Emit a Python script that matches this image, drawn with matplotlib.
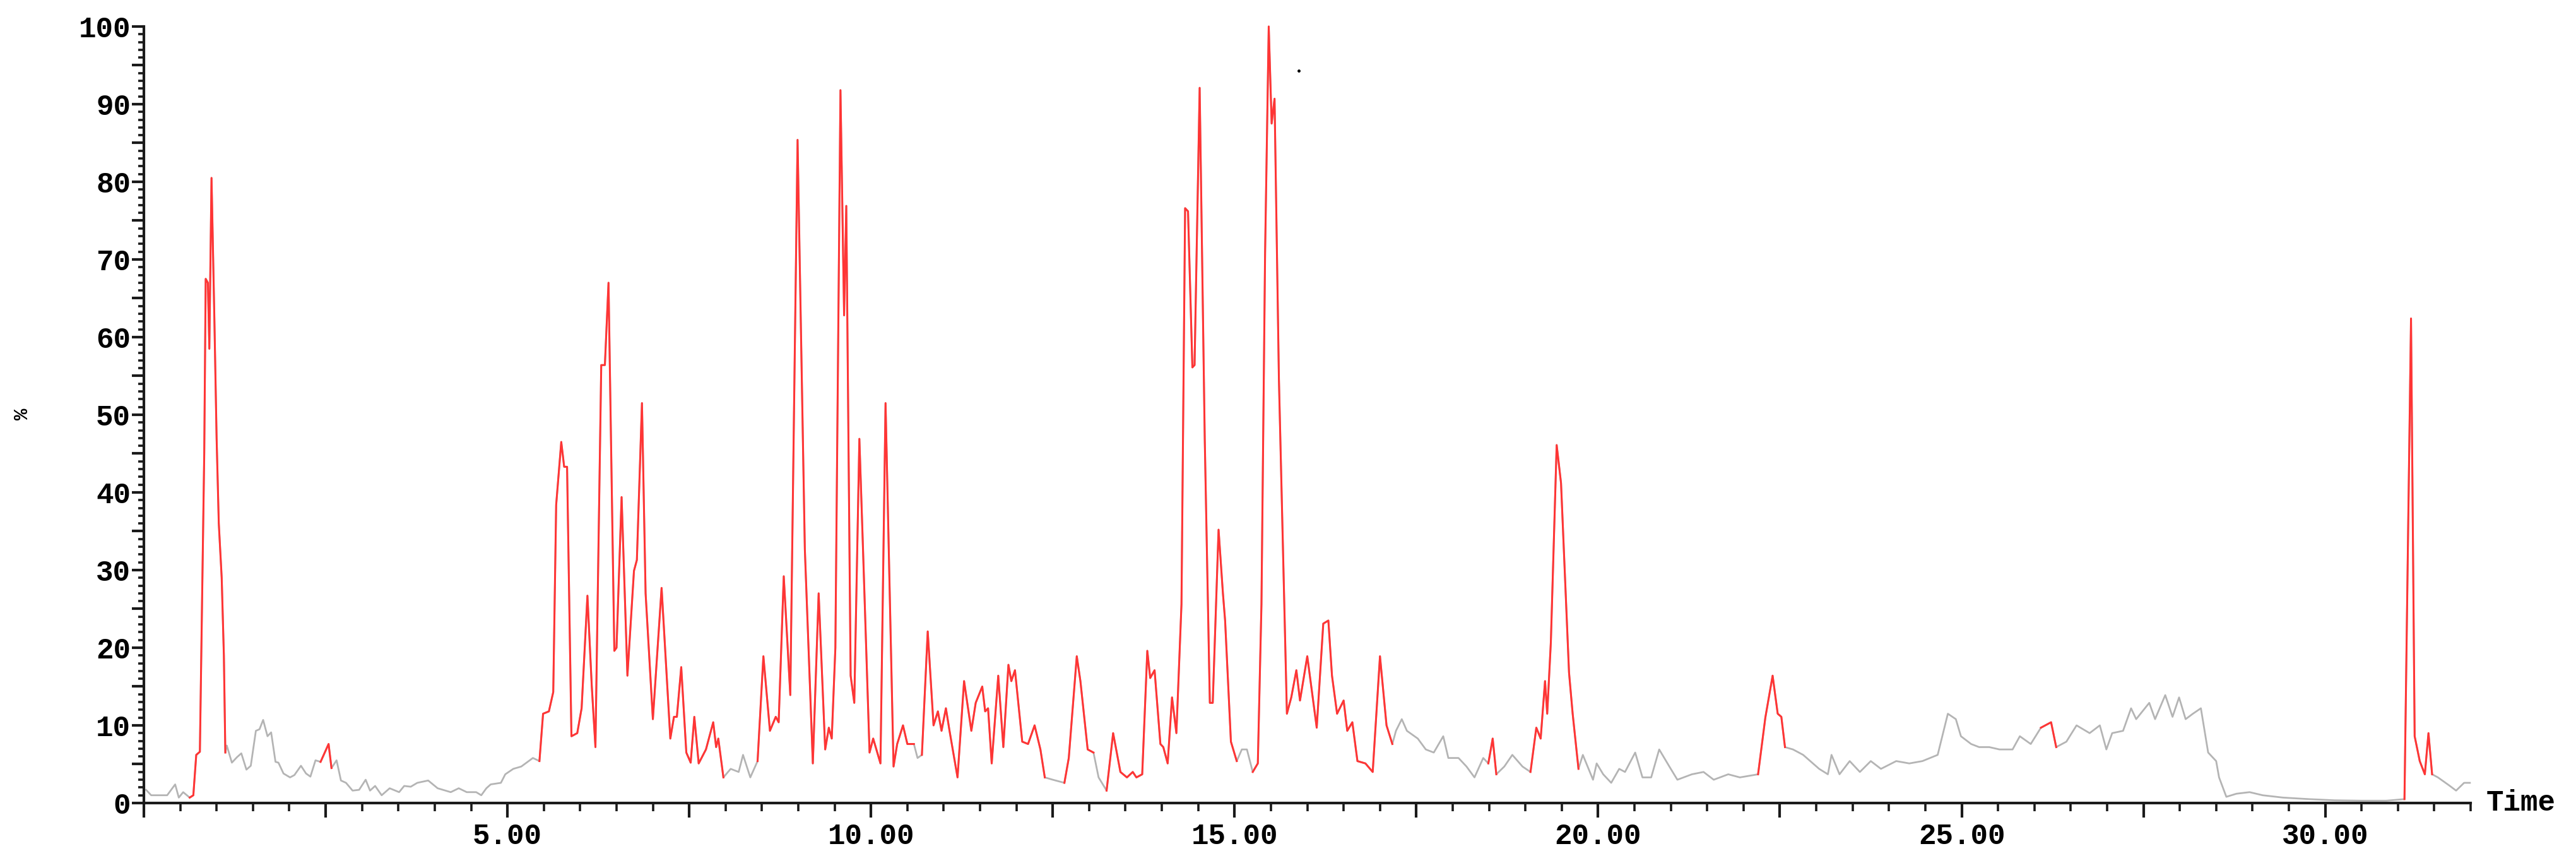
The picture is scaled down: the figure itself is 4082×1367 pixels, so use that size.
import numpy as np
import matplotlib
matplotlib.use('Agg')
from matplotlib import pyplot as plt
from matplotlib.ticker import MultipleLocator, FuncFormatter

# chromatogram trace (retention time in min, intensity in %)
rt_min = [
    0.03, 0.10, 0.32, 0.43, 0.48, 0.54, 0.63, 0.68, 0.72, 0.77, 0.80, 0.83, 0.85, 0.88, 0.90,
    0.93, 0.97, 1.00, 1.03, 1.07, 1.10, 1.12, 1.14, 1.21, 1.28, 1.34, 1.41, 1.47, 1.54, 1.59,
    1.64, 1.70, 1.75, 1.81, 1.85, 1.92, 2.01, 2.07, 2.16, 2.23, 2.29, 2.36, 2.43, 2.54, 2.58,
    2.65, 2.71, 2.78, 2.87, 2.96, 3.05, 3.11, 3.18, 3.27, 3.38, 3.51, 3.58, 3.67, 3.76, 3.91,
    4.04, 4.22, 4.33, 4.44, 4.57, 4.64, 4.71, 4.77, 4.91, 4.97, 5.08, 5.19, 5.35, 5.44, 5.49,
    5.57, 5.63, 5.67, 5.74, 5.78, 5.82, 5.88, 5.96, 6.02, 6.10, 6.16, 6.21, 6.29, 6.34, 6.39,
    6.47, 6.50, 6.57, 6.65, 6.74, 6.78, 6.85, 6.90, 7.00, 7.12, 7.24, 7.29, 7.33, 7.39, 7.46,
    7.52, 7.57, 7.63, 7.73, 7.83, 7.87, 7.90, 7.97, 8.07, 8.18, 8.24, 8.34, 8.44, 8.52, 8.61,
    8.69, 8.73, 8.80, 8.89, 8.99, 9.09, 9.20, 9.28, 9.37, 9.42, 9.46, 9.51, 9.58, 9.63, 9.66,
    9.72, 9.77, 9.84, 9.89, 9.98, 10.03, 10.13, 10.20, 10.31, 10.36, 10.44, 10.50, 10.59, 10.64,
    10.70, 10.78, 10.86, 10.92, 10.97, 11.03, 11.08, 11.19, 11.28, 11.38, 11.44, 11.53, 11.57,
    11.61, 11.66, 11.75, 11.82, 11.89, 11.93, 11.98, 12.08, 12.16, 12.25, 12.33, 12.39, 12.50,
    12.66, 12.72, 12.83, 12.88, 12.98, 13.06, 13.13, 13.24, 13.33, 13.43, 13.52, 13.60, 13.65,
    13.73, 13.80, 13.84, 13.90, 13.98, 14.02, 14.08, 14.14, 14.20, 14.27, 14.32, 14.36, 14.42,
    14.45, 14.52, 14.59, 14.66, 14.70, 14.78, 14.84, 14.87, 14.95, 15.03, 15.10, 15.17, 15.25,
    15.32, 15.37, 15.42, 15.47, 15.51, 15.55, 15.61, 15.72, 15.78, 15.85, 15.90, 16.00, 16.13,
    16.22, 16.29, 16.34, 16.41, 16.50, 16.55, 16.62, 16.69, 16.80, 16.90, 17.00, 17.09, 17.17,
    17.22, 17.30, 17.37, 17.52, 17.63, 17.74, 17.87, 17.94, 18.08, 18.19, 18.30, 18.42, 18.49,
    18.55, 18.60, 18.71, 18.82, 18.96, 19.07, 19.15, 19.21, 19.27, 19.30, 19.35, 19.43, 19.49,
    19.60, 19.65, 19.73, 19.79, 19.93, 19.98, 20.07, 20.18, 20.29, 20.37, 20.51, 20.61, 20.73,
    20.84, 20.98, 21.09, 21.29, 21.45, 21.59, 21.79, 21.95, 22.20, 22.30, 22.40, 22.47, 22.52,
    22.57, 22.68, 22.82, 23.04, 23.16, 23.21, 23.32, 23.46, 23.60, 23.75, 23.89, 24.10, 24.28,
    24.46, 24.67, 24.81, 24.92, 24.99, 25.13, 25.24, 25.38, 25.52, 25.70, 25.80, 25.95, 26.09,
    26.23, 26.30, 26.44, 26.58, 26.76, 26.90, 26.99, 27.07, 27.22, 27.33, 27.40, 27.58, 27.66,
    27.80, 27.90, 27.99, 28.08, 28.18, 28.29, 28.39, 28.50, 28.54, 28.64, 28.78, 28.96, 29.14,
    29.42, 29.78, 30.13, 30.49, 30.84, 31.09, 31.18, 31.23, 31.30, 31.37, 31.42, 31.47, 31.55,
    31.70, 31.80, 31.91, 31.99,
]
tic_pct = [
    1.7, 1.0, 1.0, 2.4, 0.7, 1.4, 0.7, 1.0, 6.2, 6.6, 26.0, 45.0, 67.5, 67.0, 58.5,
    80.5, 62.0, 47.0, 36.0, 29.0, 19.0, 6.5, 7.4, 5.2, 5.9, 6.4, 4.3, 4.8, 9.3, 9.5,
    10.7, 8.6, 9.1, 5.3, 5.2, 3.8, 3.3, 3.6, 4.8, 3.8, 3.4, 5.5, 5.3, 7.6, 4.5,
    5.5, 2.9, 2.6, 1.6, 1.7, 3.0, 1.6, 2.2, 1.0, 1.9, 1.4, 2.2, 2.1, 2.6, 2.9,
    1.9, 1.4, 1.9, 1.4, 1.4, 1.0, 1.9, 2.4, 2.6, 3.7, 4.4, 4.7, 5.8, 5.4, 11.5,
    11.8, 14.3, 38.4, 46.5, 43.3, 43.3, 8.6, 9.0, 12.2, 26.7, 15.0, 7.2, 56.4, 56.4, 67.0,
    19.6, 20.0, 39.4, 16.4, 29.9, 31.3, 51.5, 27.0, 10.8, 27.7, 8.3, 11.1, 11.1, 17.5, 6.5,
    5.2, 11.1, 5.1, 6.9, 10.4, 7.2, 8.3, 3.3, 4.4, 4.0, 6.2, 3.3, 5.4, 18.9, 9.3,
    11.1, 10.4, 29.2, 13.9, 85.4, 32.7, 5.1, 27.0, 6.9, 9.7, 8.3, 20.0, 91.8, 62.8, 76.9,
    16.4, 12.9, 46.9, 32.7, 6.5, 8.3, 5.1, 51.5, 4.7, 7.6, 10.0, 7.6, 7.6, 5.8,
    6.2, 22.1, 10.0, 11.8, 9.3, 12.2, 9.3, 3.3, 15.7, 9.3, 12.9, 15.0, 11.8,
    12.2, 5.1, 16.4, 7.2, 17.8, 15.7, 17.1, 7.9, 7.6, 10.0, 6.9, 3.3, 3.0,
    2.6, 5.8, 18.9, 15.7, 6.9, 6.5, 3.3, 1.6, 9.0, 4.0, 3.3, 4.0, 3.3,
    3.7, 19.6, 16.1, 17.1, 7.6, 7.2, 5.1, 13.6, 9.0, 25.6, 76.6, 76.2, 56.1,
    56.4, 92.1, 46.9, 12.9, 12.9, 35.2, 27.0, 23.5, 7.9, 5.4, 6.9, 6.9, 4.0,
    5.1, 25.6, 70.9, 100.0, 87.5, 90.7, 54.6, 11.5, 13.6, 17.1, 13.2, 18.9, 9.7,
    23.1, 23.5, 16.4, 11.5, 13.2, 9.3, 10.4, 5.4, 5.1, 4.0, 18.9, 10.0, 7.6,
    9.3, 10.8, 9.3, 8.3, 6.9, 6.5, 8.6, 5.8, 5.8, 4.7, 3.3, 5.8, 5.1,
    8.3, 3.7, 4.7, 6.2, 4.7, 4.0, 9.7, 8.3, 15.7, 11.5, 20.7, 46.1, 41.2,
    16.8, 11.5, 4.4, 6.2, 3.0, 5.1, 3.7, 2.6, 4.4, 4.0, 6.5, 3.3, 3.3,
    6.9, 4.7, 3.0, 3.7, 4.0, 3.0, 3.7, 3.3, 3.7, 11.0, 16.4, 11.5, 11.1,
    7.2, 6.9, 6.2, 4.4, 3.7, 6.2, 3.7, 5.4, 4.0, 5.4, 4.4, 5.4, 5.1,
    5.4, 6.2, 11.5, 10.8, 8.6, 7.6, 7.2, 7.2, 6.9, 6.9, 8.6, 7.6, 9.7,
    10.4, 7.2, 7.9, 10.0, 9.0, 10.0, 6.9, 9.0, 9.3, 12.2, 10.8, 12.9, 10.8,
    13.9, 11.1, 13.6, 10.8, 11.5, 12.2, 6.5, 5.4, 3.3, 0.8, 1.2, 1.4, 1.0,
    0.7, 0.5, 0.35, 0.3, 0.3, 0.5, 62.4, 8.6, 5.4, 3.7, 9.0, 3.7, 3.3,
    2.3, 1.6, 2.6, 2.6,
]

# time windows drawn in red (integrated peaks)
red_ranges = [(0.63, 1.12), (2.43, 2.58), (5.44, 7.97), (8.44, 10.59), (10.70, 12.39),
              (12.66, 13.06), (13.24, 15.03), (15.25, 17.17), (18.49, 18.60),
              (19.07, 19.73), (22.20, 22.57), (26.09, 26.30), (31.09, 31.47)]

stray_dot = [15.88, 94.3]

t = np.array(rt_min)
y = np.array(tic_pct)

fig = plt.figure(figsize=(40.82, 13.67), dpi=100)
ax = fig.add_axes([0.05586, 0.0695, 0.90324, 0.8998])

ax.plot(t, y, color='#b4b4b4', lw=2.0, clip_on=False, zorder=2)
for t0, t1 in red_ranges:
    m = (t >= t0 - 1e-9) & (t <= t1 + 1e-9)
    ax.plot(t[m], y[m], color='#ff3535', lw=2.2, clip_on=False, zorder=3)
ax.plot([stray_dot[0]], [stray_dot[1]], 'o', color='black', ms=2.5, zorder=4)

ax.set_xlim(0, 32)
ax.set_ylim(0, 100)

for s in ['top', 'right']:
    ax.spines[s].set_visible(False)
for s in ['left', 'bottom']:
    ax.spines[s].set_linewidth(3)
    ax.spines[s].set_color('#1a1a1a')

ax.xaxis.set_major_locator(MultipleLocator(2.5))
ax.xaxis.set_minor_locator(MultipleLocator(0.5))
ax.xaxis.set_major_formatter(FuncFormatter(
    lambda v, p: f'{v:.2f}' if v > 0 and abs(v / 5 - round(v / 5)) < 1e-6 else ''))
ax.yaxis.set_major_locator(MultipleLocator(5))
ax.yaxis.set_minor_locator(MultipleLocator(1))
ax.yaxis.set_major_formatter(FuncFormatter(
    lambda v, p: f'{v:.0f}' if abs(v / 10 - round(v / 10)) < 1e-6 else ''))

ax.tick_params(axis='x', which='major', direction='out', length=16.5, width=3, pad=6, color='#1a1a1a')
ax.tick_params(axis='x', which='minor', direction='out', length=9.5, width=2.6, color='#1a1a1a')
ax.tick_params(axis='y', which='major', direction='out', length=14, width=3, pad=1, color='#1a1a1a')
ax.tick_params(axis='y', which='minor', direction='out', length=6.5, width=2.6, color='#1a1a1a')

for lab in ax.get_xticklabels() + ax.get_yticklabels():
    lab.set_fontfamily('Liberation Mono')
    lab.set_fontweight('bold')
    lab.set_fontsize(33)

ax.annotate('Time', xy=(1, 0), xycoords='axes fraction', xytext=(18, 0),
            textcoords='offset points', ha='left', va='center',
            fontfamily='Liberation Mono', fontweight='bold', fontsize=33)
fig.text(36 / 4082, 1 - 656 / 1367, '%', rotation=90, ha='center', va='center',
         fontfamily='Liberation Mono', fontweight='bold', fontsize=22)

fig.savefig('out.png', dpi=100)
